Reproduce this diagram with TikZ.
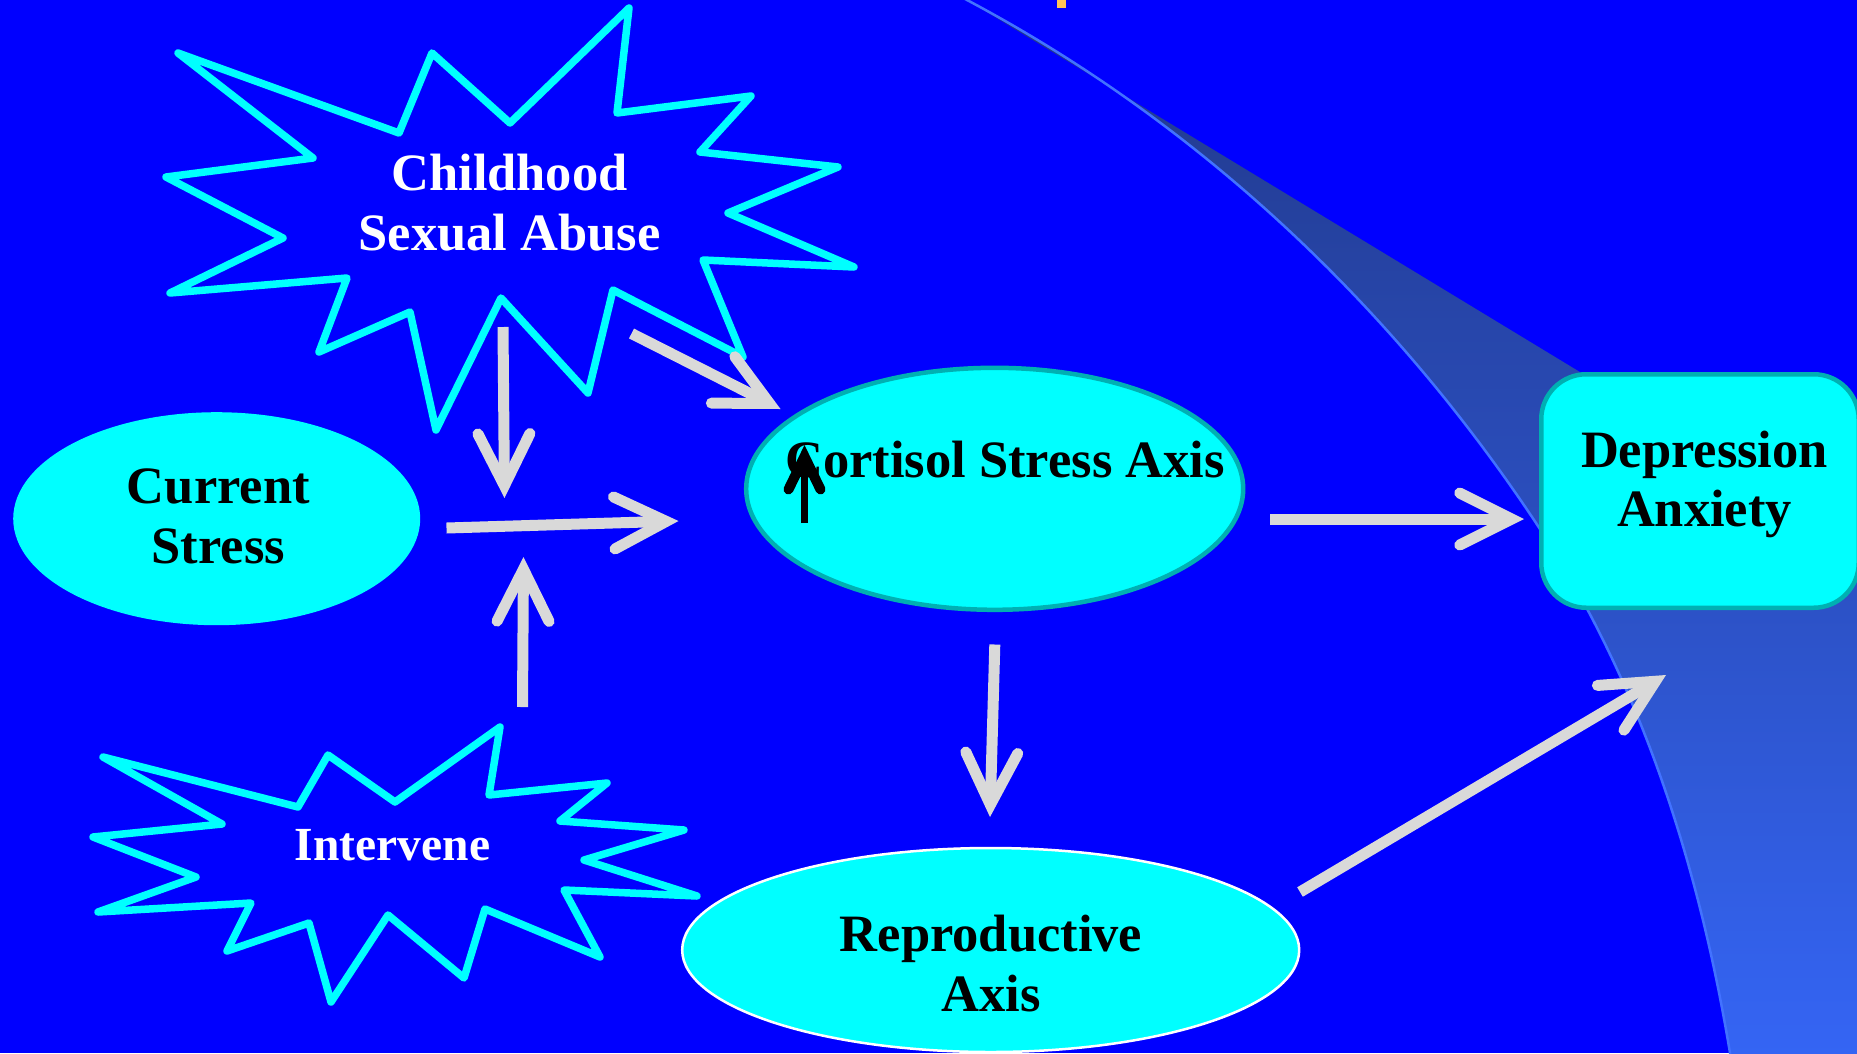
\documentclass[tikz,border=0pt]{standalone}
\usepackage{fontspec}
\setmainfont{Liberation Serif}
\usetikzlibrary{arrows.meta,shapes.geometric}
\definecolor{bgblue}{HTML}{0000FF}
\definecolor{cyanfill}{HTML}{00FFFF}
\definecolor{tealline}{HTML}{00B0B2}
\definecolor{arrowgray}{HTML}{D9D9D9}
\definecolor{swooshline}{HTML}{4272FF}
\definecolor{bandtop}{HTML}{213889}
\definecolor{bandbot}{HTML}{3566F7}
\definecolor{titleorange}{HTML}{FFC457}
\tikzset{
  burst/.style={draw=cyanfill, line width=7.5pt, line join=round},
  bigarrow/.style={draw=arrowgray, line width=11pt,
    -{Straight Barb[length=52pt,width=52pt,line cap=round,line join=miter]}},
  upmark/.style={draw=black, line width=7pt,
    -{Straight Barb[length=33pt,width=32pt,line width=10pt,line cap=round,line join=miter]}},
  lbl/.style={font=\fontsize{52.5}{60}\selectfont\bfseries, align=center, inner sep=0pt},
  lblone/.style={font=\fontsize{52.5}{60}\selectfont\bfseries, inner sep=0pt, anchor=base},
  bubble/.style={ellipse, fill=cyanfill, inner sep=0pt},
}
\begin{document}
\begin{tikzpicture}[x=1pt,y=-1pt]
\useasboundingbox (0,0) rectangle (1857,1053);
\clip (0,0) rectangle (1857,1053);
\fill[bgblue] (0,0) rectangle (1857,1053);
% background swoosh
\shade[top color=bandtop, bottom color=bandbot]
  (967,0) .. controls (1197,122) and (1390,304) .. (1534,520)
  .. controls (1640,679) and (1698.6,864) .. (1730,1053) -- (1735,1083)
  -- (1870,1083) -- (1870,548) -- (1120,93) -- cycle;
\draw[swooshline, line width=2.5pt] (932,-18.5) -- (967,0) .. controls (1197,122) and (1390,304) .. (1534,520)
  .. controls (1640,679) and (1698.6,864) .. (1730,1053) -- (1735,1083);
\fill[titleorange] (1057,-2) rectangle (1066,7.5);
% starbursts
\draw[burst] (178,53) -- (399,133) -- (432,53) -- (510,123) -- (629,8) -- (617,113) -- (751,96) -- (700,152) -- (838,167) -- (728,213) -- (854,267) -- (703,260) -- (743,357) -- (613,290) -- (588,393) -- (501,298) -- (436,430) -- (410,312) -- (319,352) -- (347,278) -- (170,293) -- (283,238) -- (166,177) -- (313,158) -- cycle;
\draw[burst] (103,757) -- (298,807) -- (328,755) -- (395,802) -- (500,727) -- (489,795) -- (607,783) -- (560,821) -- (684,830) -- (584,860) -- (697,896) -- (564,890) -- (600,957) -- (485,909) -- (464,978) -- (388,915) -- (331,1002) -- (309,923) -- (227,951) -- (251,903) -- (98,912) -- (196,877) -- (93,837) -- (222,824) -- cycle;
% shapes
\node[bubble, minimum width=407pt, minimum height=213pt] (curShape) at (216.7,518.7) {};
\node[bubble, draw=tealline, line width=4.5pt, minimum width=497pt, minimum height=242pt] (cortShape) at (994.7,488.8) {};
\node[bubble, draw=white, line width=2.5pt, minimum width=617pt, minimum height=204pt] (reproShape) at (990.7,950) {};
\node[draw=tealline, line width=4.5pt, fill=cyanfill, rounded corners=45pt, minimum width=317.5pt, minimum height=233.5pt, inner sep=0pt] (depShape) at (1700,491) {};
% texts
\node[lbl, text=white] (csaText) at (509.5,202.6) {Childhood\\Sexual Abuse};
\node[lbl] (curText) at (218.3,515.9) {Current\\Stress};
\node[lblone] (cortText) at (1005,477.3) {Cortisol Stress Axis};
\node[lbl, font=\fontsize{52.5}{59}\selectfont\bfseries] (depText) at (1704.5,484) {Depression\\Anxiety};
\node[lbl] (reproText) at (991,964) {Reproductive\\Axis};
\node[lblone, font=\fontsize{47.5}{55}\selectfont\bfseries, text=white] (intText) at (392.5,860) {Intervene};
% connector ends
\coordinate (csaFoot) at (503,327);
\coordinate (junTop) at (504.5,498);
\coordinate (intHead) at (522.5,707);
\coordinate (junBot) at (523.5,557);
\coordinate (curEast) at (446.5,528);
\coordinate (junEast) at (678.5,521);
\coordinate (csaSE) at (631.5,333.5);
\coordinate (cortNW) at (780.5,409);
\coordinate (cortEast) at (1270,519);
\coordinate (depWest) at (1524,519);
\coordinate (cortSouth) at (994.8,644.5);
\coordinate (reproNorth) at (990,817);
\coordinate (reproEast) at (1300,892);
\coordinate (depSW) at (1666,675);
\draw[bigarrow] (csaFoot) -- (junTop);
\draw[bigarrow] (intHead) -- (junBot);
\draw[bigarrow] (curEast) -- (junEast);
\draw[bigarrow] (csaSE) -- (cortNW);
\draw[bigarrow] (cortEast) -- (depWest);
\draw[bigarrow] (cortSouth) -- (reproNorth);
\draw[bigarrow] (reproEast) -- (depSW);
% increase mark
\coordinate (upFoot) at (804.5,523);
\coordinate (upTip) at (804.5,445);
\draw[upmark] (upFoot) -- (upTip);
\end{tikzpicture}
\end{document}
